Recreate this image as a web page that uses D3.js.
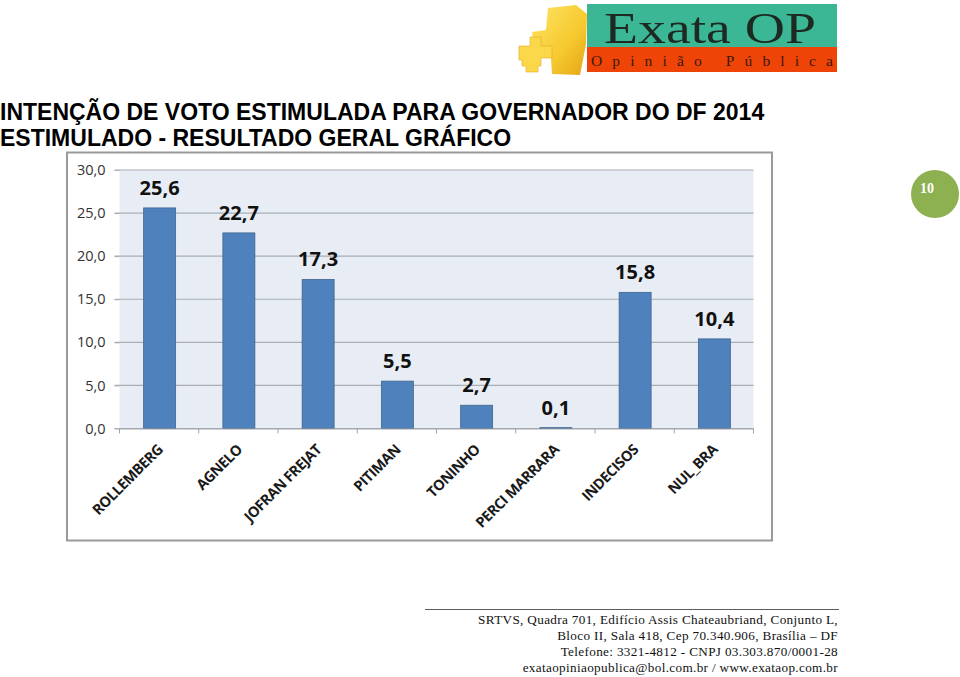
<!DOCTYPE html>
<html><head><meta charset="utf-8">
<script src="https://cdn.jsdelivr.net/npm/d3@7"></script>
<style>html,body{margin:0;padding:0;background:#fff;overflow:hidden}svg{display:block}</style>
</head><body><svg id="c" width="960" height="677"></svg>
<script>
const categories=["ROLLEMBERG","AGNELO","JOFRAN FREJAT","PITIMAN","TONINHO","PERCI MARRARA","INDECISOS","NUL_BRA"];
const values=[25.6,22.7,17.3,5.5,2.7,0.1,15.8,10.4];
const yTicks=[0,5,10,15,20,25,30];
const titleLines=["INTENÇÃO DE VOTO ESTIMULADA PARA GOVERNADOR DO DF 2014","ESTIMULADO - RESULTADO GERAL GRÁFICO"];
const footerLines=["SRTVS, Quadra 701, Edifício Assis Chateaubriand, Conjunto L,","Bloco II, Sala 418, Cep 70.340.906, Brasília – DF","Telefone: 3321-4812 - CNPJ 03.303.870/0001-28","exataopiniaopublica@bol.com.br / www.exataop.com.br"];
const pageNumber="10";
const fmt=v=>d3.format(".1f")(v).replace(".",",");
const svg=d3.select("#c");
const sans="'Open Sans','Noto Sans',sans-serif";

// Logo
const logo=svg.append("g");
const defs=svg.append("defs");
const g=defs.append("linearGradient").attr("id","gold").attr("x1",0).attr("y1",0).attr("x2",1).attr("y2",1);
g.append("stop").attr("offset",0).attr("stop-color","#ffe566");
g.append("stop").attr("offset",.6).attr("stop-color","#f6c92f");
g.append("stop").attr("offset",1).attr("stop-color","#e5a417");
logo.append("path").attr("fill","url(#gold)").attr("d","M548 8L576 5L587 14L586 44L580 75L552 74L551 58L535 57L532 32L546 30Z");
logo.append("path").attr("fill","#fbd84a").attr("stroke","#e4ad20").attr("stroke-width",.6).attr("d","M530 37H541V46H552V58H541V66H538V72H526V66H522V60H519V46H530Z");
logo.append("rect").attr("x",587).attr("y",4).attr("width",250).attr("height",43).attr("fill","#3cb795");
logo.append("rect").attr("x",587).attr("y",47).attr("width",250).attr("height",25).attr("fill","#ee4408");
logo.append("text").attr("x",604).attr("y",43).attr("font-family","'Liberation Serif',serif").attr("font-size",44).attr("fill","#1d2a22").attr("textLength",212).attr("lengthAdjust","spacingAndGlyphs").text("Exata OP");
logo.append("text").attr("x",591).attr("y",66).attr("font-family","'Liberation Serif',serif").attr("font-size",15.5).attr("fill","#3a1a10").attr("textLength",242).text("Opinião Pública");

// Title
svg.append("g").selectAll("text").data(titleLines).join("text")
 .attr("x",0).attr("y",(d,i)=>119.5+i*26.5)
 .attr("font-family","'Liberation Sans',Arial,sans-serif").attr("font-weight",700).attr("font-size",23).attr("fill","#000")
 .text(d=>d);

// Chart frame
svg.append("rect").attr("x",67).attr("y",152.5).attr("width",705).attr("height",388).attr("fill","#fff").attr("stroke","#9a9a9a").attr("stroke-width",2);

const x=d3.scaleBand().domain(categories).range([119.5,753.5]).paddingInner(0).paddingOuter(0);
const y=d3.scaleLinear().domain([0,30]).range([428.5,170]);
svg.append("rect").attr("x",x.range()[0]).attr("y",y(30)).attr("width",x.range()[1]-x.range()[0]).attr("height",y(0)-y(30)).attr("fill","#e8edf5");

// Grid
svg.append("g").selectAll("line").data(yTicks).join("line")
 .attr("x1",119.5-5).attr("x2",753.5).attr("y1",d=>y(d)).attr("y2",d=>y(d)).attr("stroke","#a9aeb5").attr("stroke-width",1.2);

// Y axis
const ya=svg.append("g").attr("transform","translate(119.5,0)").call(d3.axisLeft(y).tickValues(yTicks).tickFormat(fmt).tickSize(5));
ya.select(".domain").remove();
ya.selectAll("line").attr("stroke","#a9aeb5");
ya.selectAll("text").attr("font-family",sans).attr("font-size",14.5).attr("fill","#333").attr("x",-14).attr("dy",".32em");

// Bars
const bw=32;
svg.append("g").selectAll("rect").data(categories).join("rect")
 .attr("x",d=>x(d)+x.bandwidth()/2-bw/2+0.5).attr("width",bw)
 .attr("y",(d,i)=>y(values[i])).attr("height",(d,i)=>y(0)-y(values[i]))
 .attr("fill","#4f81bd").attr("stroke","#3f668f").attr("stroke-width",.8);

// X axis
const xa=svg.append("g").attr("transform","translate(0,428.5)").call(d3.axisBottom(x).tickSize(0).tickFormat(""));
xa.select(".domain").attr("stroke","#a0a4aa").attr("stroke-width",1.2);
svg.append("g").selectAll("line").data(categories.concat(["end"])).join("line")
 .attr("x1",(d,i)=>119.5+i*x.bandwidth()).attr("x2",(d,i)=>119.5+i*x.bandwidth()).attr("y1",428.5).attr("y2",433.5).attr("stroke","#a0a4aa");

// Category labels
svg.append("g").selectAll("text").data(categories).join("text")
 .attr("transform",d=>`translate(${x(d)+x.bandwidth()/2+1},${447}) rotate(-45)`)
 .attr("text-anchor","end").attr("dy","0.35em")
 .attr("font-family",sans).attr("font-weight",700).attr("font-size",14.6).attr("letter-spacing",-0.55).attr("fill","#1a1a1a").text(d=>d);

// Value labels
svg.append("g").selectAll("text").data(values).join("text")
 .attr("x",(d,i)=>x(categories[i])+x.bandwidth()/2+0.5).attr("y",d=>y(d)-13)
 .attr("text-anchor","middle").attr("font-family",sans).attr("font-weight",700).attr("font-size",20).attr("fill","#111").text(fmt);

// Page number badge
svg.append("circle").attr("cx",935).attr("cy",194).attr("r",24).attr("fill","#8db050");
svg.append("text").attr("x",927).attr("y",190).attr("text-anchor","middle").attr("dominant-baseline","middle").attr("font-family","'Liberation Serif',serif").attr("font-weight",700).attr("font-size",14).attr("fill","#fff").text(pageNumber);

// Footer
svg.append("line").attr("x1",425).attr("x2",839).attr("y1",609.5).attr("y2",609.5).attr("stroke","#333").attr("stroke-width",.8);
svg.append("g").selectAll("text").data(footerLines).join("text")
 .attr("x",838).attr("y",(d,i)=>624+i*16).attr("text-anchor","end")
 .attr("font-family","'Liberation Serif',serif").attr("font-size",13.2).attr("letter-spacing",0.34).attr("fill","#111").text(d=>d);
</script></body></html>
